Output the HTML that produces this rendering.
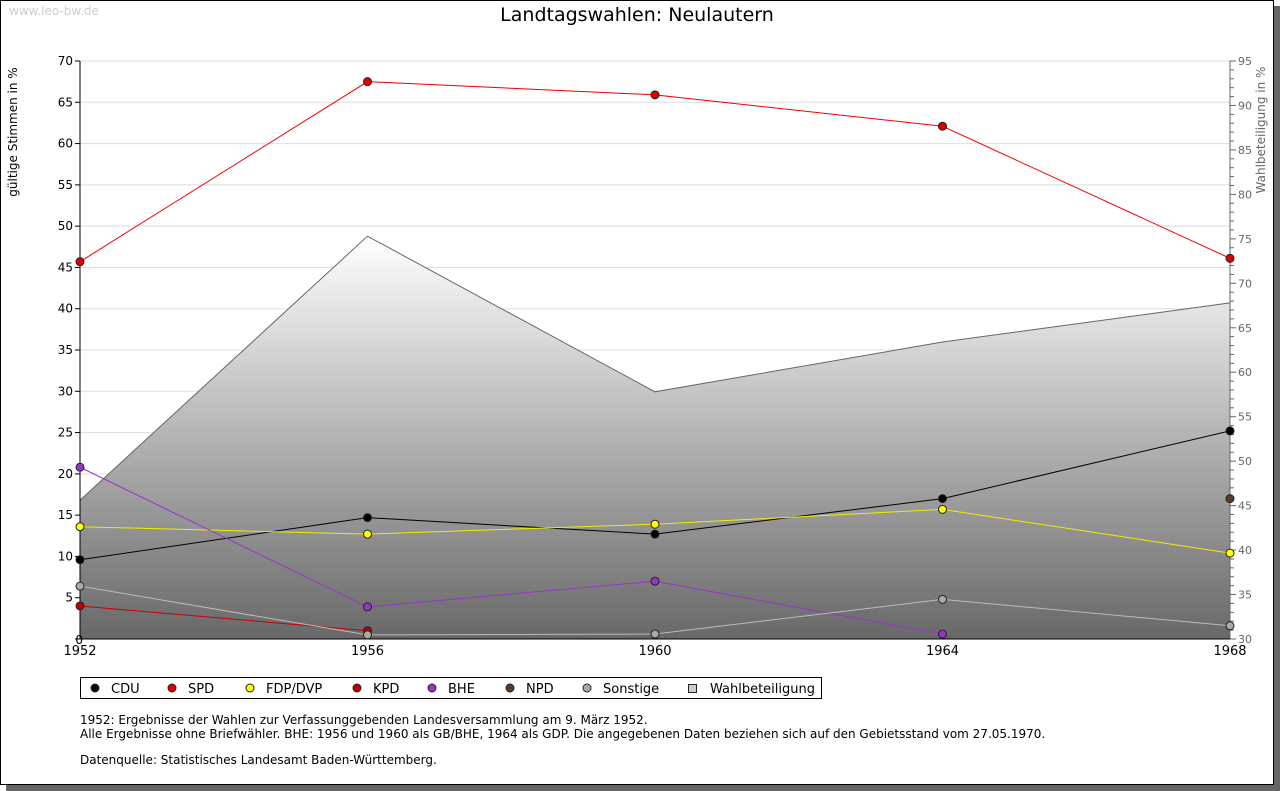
<!DOCTYPE html>
<html><head><meta charset="utf-8"><style>
html,body{margin:0;padding:0;background:#fff;}
svg{display:block;font-family:"DejaVu Sans","Liberation Sans",sans-serif;}
</style></head><body>
<svg id="c" width="1280" height="791" xmlns="http://www.w3.org/2000/svg">
<defs>
<linearGradient id="g" gradientUnits="userSpaceOnUse" x1="0" y1="236" x2="0" y2="639">
<stop offset="0" stop-color="#ffffff"/><stop offset="1" stop-color="#686868"/>
</linearGradient>
</defs>
<rect x="1274" y="6" width="6" height="785" fill="#666"/>
<rect x="6" y="785" width="1274" height="6" fill="#666"/>
<rect x="0.5" y="0.5" width="1273" height="784" fill="#fff" stroke="#000"/>
<text x="9" y="15" font-size="12" fill="#ccc">www.leo-bw.de</text>
<text x="637" y="21" font-size="19" text-anchor="middle">Landtagswahlen: Neulautern</text>
<text transform="translate(17,132) rotate(-90)" font-size="12" text-anchor="middle">gültige Stimmen in %</text>
<text transform="translate(1265,130) rotate(-90)" font-size="12" fill="#666" text-anchor="middle">Wahlbeteiligung in %</text>
<g id="grid"></g><g id="area"></g><g id="axes"></g><g id="series"></g>
<g id="legend"></g>
<text x="80" y="724" font-size="12">1952: Ergebnisse der Wahlen zur Verfassunggebenden Landesversammlung am 9. März 1952.</text>
<text x="80" y="738" font-size="12">Alle Ergebnisse ohne Briefwähler. BHE: 1956 und 1960 als GB/BHE, 1964 als GDP. Die angegebenen Daten beziehen sich auf den Gebietsstand vom 27.05.1970.</text>
<text x="80" y="764" font-size="12">Datenquelle: Statistisches Landesamt Baden-Württemberg.</text>
</svg>
<script>
const years=[1952,1956,1960,1964,1968];
const cdu=[9.6,14.7,12.7,17.0,25.2];
const spd=[45.7,67.5,65.9,62.1,46.1];
const fdp=[13.6,12.7,13.9,15.7,10.4];
const kpd=[4.0,1.0,null,null,null];
const bhe=[20.8,3.9,7.0,0.6,null];
const npd=[null,null,null,null,17.0];
const sonst=[6.4,0.5,0.6,4.8,1.6];
const turnout=[45.6,75.3,57.8,63.4,67.8];
const leftTicks=[0,5,10,15,20,25,30,35,40,45,50,55,60,65,70];
const rightTicks=[30,35,40,45,50,55,60,65,70,75,80,85,90,95];
const NS="http://www.w3.org/2000/svg";
const X0=80,X1=1230,Y0=639,Y1=61;
const xS=i=>X0+(years[i]-1952)/(1968-1952)*(X1-X0);
const yL=v=>Y0-v/70*(Y0-Y1);
const yR=v=>Y0-(v-30)/65*(Y0-Y1);
function mk(t,a,p){const e=document.createElementNS(NS,t);for(const k in a)e.setAttribute(k,a[k]);p.appendChild(e);return e;}
const grid=document.getElementById('grid'),axes=document.getElementById('axes'),area=document.getElementById('area'),ser=document.getElementById('series'),leg=document.getElementById('legend');
leftTicks.forEach(v=>{
 if(v>0){const l=mk('line',{x1:X0,x2:X1,y1:yL(v),y2:yL(v),stroke:'#ddd'},grid);
 
 }
 mk('line',{x1:X0-5,x2:X0,y1:yL(v),y2:yL(v),stroke:'#000'},axes);
 const t=mk('text',{x:v==0?X0+3:X0-7,y:yL(v)+(v==0?5:4),'font-size':12,'text-anchor':'end'},axes);t.textContent=v;
 
 
});
for(let v=30;v<=95;v++){mk('line',{x1:X1,x2:X1+(v%5==0?6:4),y1:yR(v),y2:yR(v),stroke:'#666'},axes);}
rightTicks.forEach(v=>{const t=mk('text',{x:X1+8,y:yR(v)+4,'font-size':11,fill:'#666'},axes);t.textContent=v;
 
 });
let d='M'+X0+','+Y0;years.forEach((y,i)=>d+=' L'+xS(i)+','+yR(turnout[i]));d+=' L'+X1+','+Y0+' Z';
const ar=mk('path',{d:d,fill:'url(#g)'},area);


let dl='';years.forEach((y,i)=>dl+=(i?' L':'M')+xS(i)+','+yR(turnout[i]));
mk('path',{d:dl,fill:'none',stroke:'#666'},area);
mk('line',{x1:X0,x2:X0,y1:Y1,y2:Y0,stroke:'#000'},axes);
mk('line',{x1:X1,x2:X1,y1:Y1,y2:Y0,stroke:'#666'},axes);
mk('line',{x1:X0,x2:X1,y1:Y0,y2:Y0,stroke:'#000'},axes);
years.forEach((y,i)=>{const t=mk('text',{x:xS(i),y:655,'font-size':13,'text-anchor':'middle'},axes);t.textContent=y;
 
 });
const S=[['CDU',cdu,'#000','#000'],['SPD',spd,'#e00','#e00000'],['FDP/DVP',fdp,'#ee0','#ffff00'],['KPD',kpd,'#c00','#c00000'],['BHE',bhe,'#9933cc','#9933cc'],['NPD',npd,'#5a3a28','#5a3a28'],['Sonstige',sonst,'#bbb','#aaaaaa']];
S.forEach(s=>{
 const g=mk('g',{},ser);
 
 
 let p='',on=false;s[1].forEach((v,i)=>{if(v==null){on=false;return;}p+=(on?' L':' M')+xS(i)+','+yL(v);on=true;});
 mk('path',{d:p,fill:'none',stroke:s[2]},g);
 s[1].forEach((v,i)=>{if(v==null)return;const c=mk('circle',{cx:xS(i),cy:yL(v),r:4,fill:s[3],stroke:'#222'},g);
 
 });
});
const lb=mk('rect',{x:80.5,y:677.5,width:741,height:21,fill:'#fff',stroke:'#000'},leg);


const lx=[95,172,250,357,432,510,587];
S.forEach((s,i)=>{
 const c=mk('circle',{cx:lx[i],cy:688,r:4,fill:s[3],stroke:'#222'},leg);
 
 
 const t=mk('text',{x:lx[i]+16,y:693,'font-size':13},leg);t.textContent=s[0];
 
 
});
mk('rect',{x:688.5,y:684.5,width:8,height:8,fill:'#ccc',stroke:'#222'},leg);
const wt=mk('text',{x:710,y:693,'font-size':13},leg);wt.textContent='Wahlbeteiligung';


</script>
</body></html>
